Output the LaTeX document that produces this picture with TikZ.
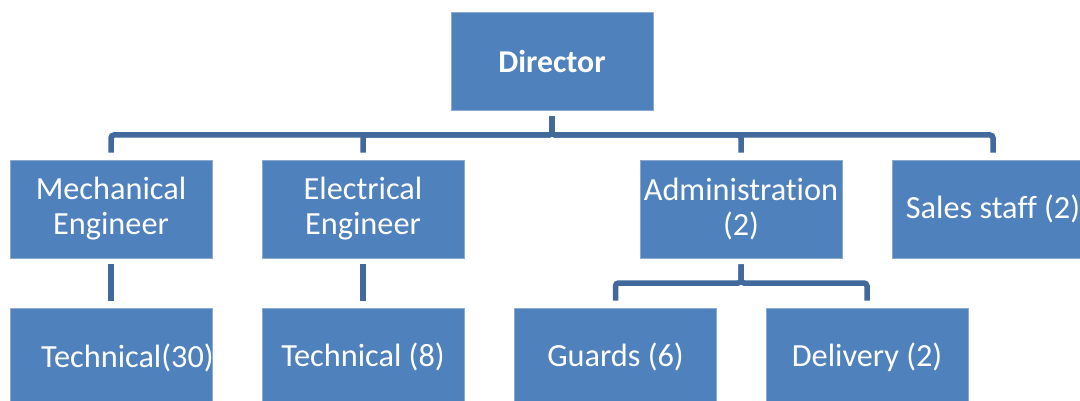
\documentclass[tikz,border=0pt]{standalone}
\usepackage{fontspec}
\setmainfont{Carlito}[Ligatures={NoCommon}]
\definecolor{boxblue}{HTML}{4F81BD}
\definecolor{boxedge}{HTML}{8AAAD2}
\definecolor{linkblue}{HTML}{41699C}
\begin{document}
\begin{tikzpicture}[x=1pt,y=-1pt,
  box/.style={rectangle,fill=boxblue,draw=boxedge,line width=0.6pt,minimum width=202pt,minimum height=98pt,inner sep=0pt,text=white,align=center,font=\fontsize{32.3}{35}\selectfont},
  lbl/.style={text=white,inner sep=0pt,font=\fontsize{32.3}{35}\selectfont},
  conn/.style={draw=linkblue,line width=5.5pt,rounded corners=3pt,shorten <=6pt,shorten >=7pt}]
\useasboundingbox (0,0) rectangle (1080,401);
\clip (0,0) rectangle (1080,401);
\node[box,font=\fontsize{31.8}{35}\selectfont\bfseries] (dir) at (552,61) {Director};
\node[box] (mech) at (111,209) {Mechanical\\Engineer};
\node[box] (elec) at (363,209) {Electrical\\Engineer};
\node[box] (admin) at (741,209) {Administration\\(2)};
\node[box] (sales) at (993,209) {Sales staff (2)};
\node[box] (tech1) at (111,357) {};
\node[lbl,anchor=west] (tech1t) at (41,358) {Technical(30)};
\node[box] (tech2) at (363,357) {Technical (8)};
\node[box] (guards) at (615.5,357) {Guards (6)};
\node[box] (deliv) at (867,357) {Delivery (2)};
\coordinate (bus1) at (552,135);
\coordinate (bus2) at (741,283);
\foreach \c in {mech,elec,admin,sales}
  \draw[conn] (dir.south) -- (dir.south |- bus1) -| (\c.north);
\foreach \c in {guards,deliv}
  \draw[conn] (admin.south) -- (admin.south |- bus2) -| (\c.north);
\draw[conn] (mech.south) -- (tech1.north);
\draw[conn] (elec.south) -- (tech2.north);
\end{tikzpicture}
\end{document}
